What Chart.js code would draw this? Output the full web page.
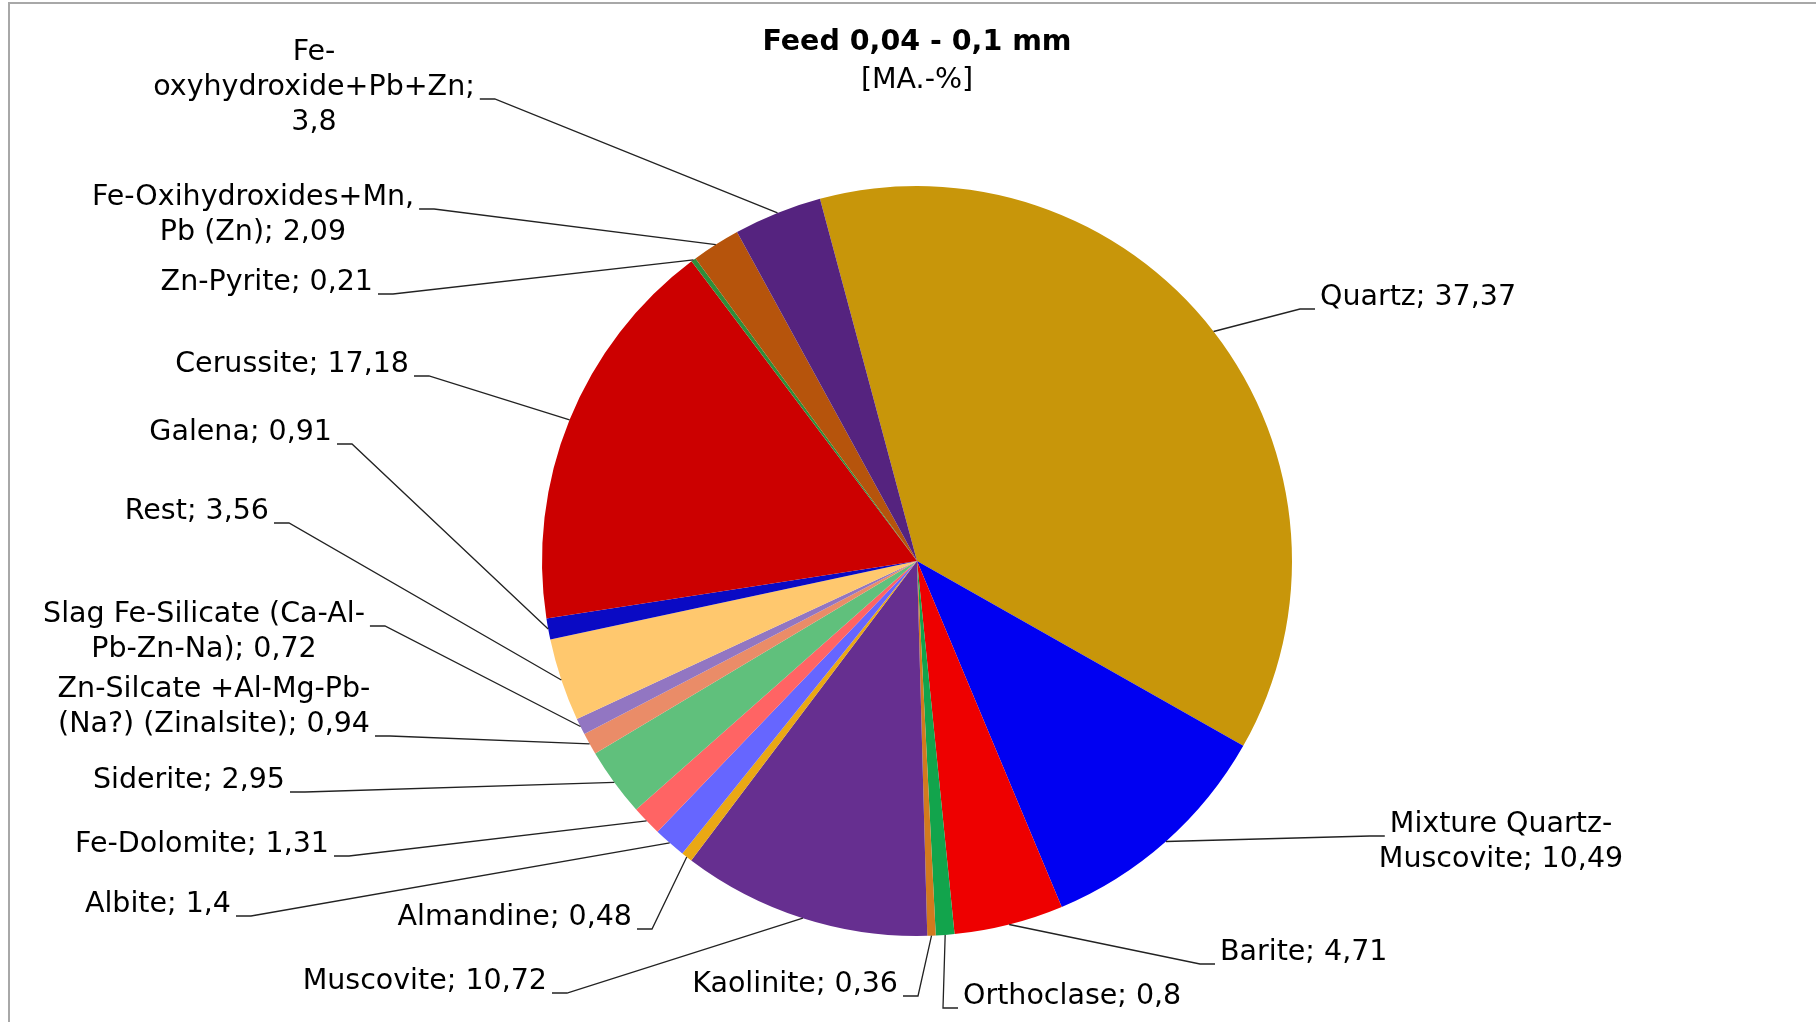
<!DOCTYPE html>
<html>
<head>
<meta charset="utf-8">
<title>Feed 0,04 - 0,1 mm</title>
<script src="https://cdn.jsdelivr.net/npm/chart.js@4.4.1/dist/chart.umd.min.js"></script>
<style>
  html, body { margin: 0; padding: 0; background: #fff; }
  #wrap { position: relative; width: 1816px; height: 1022px; overflow: hidden; }
  #wrap canvas { position: absolute; left: 0; top: 0; }
  #frame {
    position: absolute; left: 8px; top: 2px; right: -4px; bottom: -4px;
    border-left: 2px solid #a8a8a8; border-top: 2px solid #a8a8a8;
    pointer-events: none;
  }
</style>
</head>
<body>
<div id="wrap">
  <canvas id="pie" width="1816" height="1022"></canvas>
  <div id="frame"></div>
</div>
<script>
    // Mineral phases of the feed fraction, mass-%
    const minerals = [
      'Quartz', 'Mixture Quartz-Muscovite', 'Barite', 'Orthoclase', 'Kaolinite',
      'Muscovite', 'Almandine', 'Albite', 'Fe-Dolomite', 'Siderite',
      'Zn-Silcate +Al-Mg-Pb-(Na?) (Zinalsite)', 'Slag Fe-Silicate (Ca-Al-Pb-Zn-Na)',
      'Rest', 'Galena', 'Cerussite', 'Zn-Pyrite', 'Fe-Oxihydroxides+Mn, Pb (Zn)',
      'Fe-oxyhydroxide+Pb+Zn'
    ];
    const massPct = [
      37.37, 10.49, 4.71, 0.8, 0.36,
      10.72, 0.48, 1.4, 1.31, 2.95,
      0.94, 0.72,
      3.56, 0.91, 17.18, 0.21, 2.09,
      3.8
    ];
    const sliceColors = [
      '#c8960a', '#0000f2', '#ee0000', '#12a44c', '#d27a1e',
      '#662f90', '#eaa814', '#6666ff', '#ff6464', '#60c07c',
      '#ea8c68', '#9276c2',
      '#ffc86e', '#0a0ac4', '#cc0000', '#2e8e3a', '#b6540c',
      '#55237f'
    ];

    // Data label layout: anchor of the first line, text alignment, wrap width
    // (0 = one line), line the leader hooks onto and the side it leaves from
    const labelSpots = [
      { x: 1320, y: 298, align: 'left',   wrap: 0,   hook: 0, side: 'left' },
      { x: 1501, y: 825, align: 'center', wrap: 300, hook: 0, side: 'left' },
      { x: 1220, y: 953, align: 'left',   wrap: 0,   hook: 0, side: 'left' },
      { x: 963,  y: 997, align: 'left',   wrap: 0,   hook: 0, side: 'left' },
      { x: 898,  y: 985, align: 'right',  wrap: 0,   hook: 0, side: 'right' },
      { x: 547,  y: 982, align: 'right',  wrap: 0,   hook: 0, side: 'right' },
      { x: 632,  y: 918, align: 'right',  wrap: 0,   hook: 0, side: 'right' },
      { x: 231,  y: 905, align: 'right',  wrap: 0,   hook: 0, side: 'right' },
      { x: 329,  y: 845, align: 'right',  wrap: 0,   hook: 0, side: 'right' },
      { x: 285,  y: 781, align: 'right',  wrap: 0,   hook: 0, side: 'right' },
      { x: 214,  y: 690, align: 'center', wrap: 350, hook: 1, side: 'right' },
      { x: 204,  y: 615, align: 'center', wrap: 347, hook: 0, side: 'right' },
      { x: 269,  y: 512, align: 'right',  wrap: 0,   hook: 0, side: 'right' },
      { x: 332,  y: 433, align: 'right',  wrap: 0,   hook: 0, side: 'right' },
      { x: 409,  y: 365, align: 'right',  wrap: 0,   hook: 0, side: 'right' },
      { x: 373,  y: 283, align: 'right',  wrap: 0,   hook: 0, side: 'right' },
      { x: 253,  y: 198, align: 'center', wrap: 340, hook: 0, side: 'right' },
      { x: 314,  y: 53,  align: 'center', wrap: 345, hook: 1, side: 'right' }
    ];

    const FONT = '"DejaVu Sans", Verdana, sans-serif';
    const LABEL_SIZE = 28.5;
    const LINE_GAP = 35;

    const fmt = v => String(v).replace('.', ',');

    // break after spaces and hyphens, the way the spreadsheet wraps labels
    function wrapText(ctx, text, maxWidth) {
      const tokens = text.match(/[^ -]+[- ]?|[- ]/g);
      const lines = [];
      let line = '';
      tokens.forEach(tok => {
        const next = line + tok;
        if (line && ctx.measureText(next.trimEnd()).width > maxWidth) {
          lines.push(line.trimEnd());
          line = tok;
        } else {
          line = next;
        }
      });
      if (line) lines.push(line.trimEnd());
      return lines;
    }

    // Category labels outside the pie, tied to their slices with leader lines
    const leaderLabels = {
      id: 'leaderLabels',
      afterDatasetsDraw(chart) {
        const ctx = chart.ctx;
        const arcs = chart.getDatasetMeta(0).data;
        ctx.save();
        ctx.font = `${LABEL_SIZE}px ${FONT}`;
        ctx.textBaseline = 'middle';
        ctx.fillStyle = '#000';
        ctx.strokeStyle = '#222';
        ctx.lineWidth = 1.3;

        arcs.forEach((arc, i) => {
          const spot = labelSpots[i];
          const text = `${minerals[i]}; ${fmt(massPct[i])}`;
          const lines = spot.wrap ? wrapText(ctx, text, spot.wrap) : [text];

          lines.forEach((ln, k) => {
            ctx.textAlign = spot.align;
            ctx.fillText(ln, spot.x, spot.y + k * LINE_GAP);
          });

          // edge of the line the leader attaches to
          const w = ctx.measureText(lines[spot.hook]).width;
          let lx, rx;
          if (spot.align === 'left') { lx = spot.x; rx = spot.x + w; }
          else if (spot.align === 'right') { lx = spot.x - w; rx = spot.x; }
          else { lx = spot.x - w / 2; rx = spot.x + w / 2; }
          const hy = spot.y + spot.hook * LINE_GAP + 11;
          const sx = spot.side === 'right' ? rx + 5 : lx - 5;
          const ex = spot.side === 'right' ? sx + 15 : sx - 15;

          // leader starts on the rim, in the middle of the slice
          const p = arc.getProps(['x', 'y', 'startAngle', 'endAngle', 'outerRadius'], true);
          const mid = (p.startAngle + p.endAngle) / 2;
          const px = p.x + Math.cos(mid) * p.outerRadius;
          const py = p.y + Math.sin(mid) * p.outerRadius;

          ctx.beginPath();
          ctx.moveTo(px, py);
          ctx.lineTo(ex, hy);
          ctx.lineTo(sx, hy);
          ctx.stroke();
        });
        ctx.restore();
      }
    };

    new Chart(document.getElementById('pie'), {
      type: 'pie',
      data: {
        labels: minerals,
        datasets: [{
          data: massPct,
          backgroundColor: sliceColors,
          borderWidth: 0,
          hoverOffset: 0
        }]
      },
      options: {
        responsive: false,
        animation: false,
        rotation: -15,
        layout: { padding: { left: 542, right: 524, top: 0, bottom: 86 } },
        plugins: {
          legend: { display: false },
          tooltip: { enabled: false },
          title: {
            display: true,
            text: 'Feed 0,04 - 0,1 mm',
            color: '#000',
            font: { family: FONT, size: 28.5, weight: 'bold' },
            padding: { top: 25, bottom: 0 }
          },
          subtitle: {
            display: true,
            text: '[MA.-%]',
            color: '#000',
            font: { family: FONT, size: 28.5, weight: 'normal' },
            padding: { top: 4, bottom: 88.6 }
          }
        }
      },
      plugins: [leaderLabels]
    });
</script>
</body>
</html>
